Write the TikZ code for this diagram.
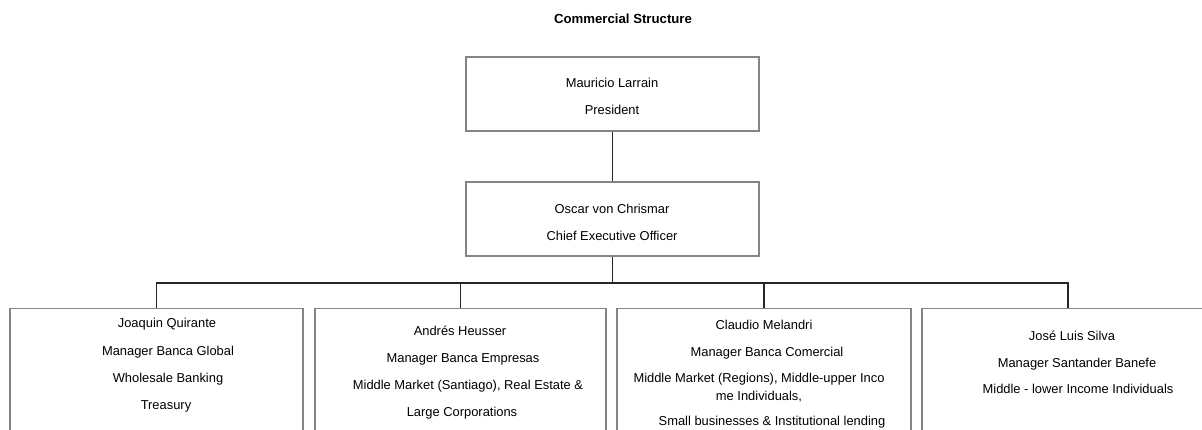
\documentclass[tikz,border=0pt]{standalone}
\usepackage{fontspec}
\setmainfont{Liberation Sans}
\begin{document}
\begin{tikzpicture}[x=1pt,y=-1pt,
  box/.style={draw=black!48, line width=1.3pt, rectangle, inner sep=0pt},
  wire/.style={draw=black!85, line width=1.4pt},
  lbl/.style={inner sep=0pt, font=\fontsize{12.9}{15}\selectfont, text=black},
  ttl/.style={inner sep=0pt, font=\fontsize{13.2}{15}\selectfont\bfseries}]
\useasboundingbox (0,0) rectangle (1202,430);
\clip (0,0) rectangle (1202,430);
\fill[white] (0,0) rectangle (1202,430);
\node[ttl] (title) at (623,19) {Commercial Structure};
% top boxes
\node[box, minimum width=293pt, minimum height=74pt] (pres) at (612.5,94) {};
\node[lbl] (pres1) at (612,83) {Mauricio Larrain};
\node[lbl] (pres2) at (612,110) {President};
\node[box, minimum width=293pt, minimum height=74pt] (ceo) at (612.5,219) {};
\node[lbl] (ceo1) at (612,209) {Oscar von Chrismar};
\node[lbl] (ceo2) at (612,236) {Chief Executive Officer};
% bottom boxes
\node[box, minimum width=293pt, minimum height=160pt, anchor=north] (b1) at (156.5,308) {};
\node[box, minimum width=291pt, minimum height=160pt, anchor=north] (b2) at (460.5,308) {};
\node[box, minimum width=294pt, minimum height=160pt, anchor=north] (b3) at (764,308) {};
\node[box, minimum width=292pt, minimum height=160pt, anchor=north] (b4) at (1068,308) {};
% box texts
\node[lbl] (t11) at (167,324) {Joaquin Quirante};
\node[lbl] (t12) at (168,352) {Manager Banca Global};
\node[lbl] (t13) at (168,379) {Wholesale Banking};
\node[lbl] (t14) at (166,406) {Treasury};
\node[lbl] (t21) at (460,331) {Andrés Heusser};
\node[lbl] (t22) at (463,359) {Manager Banca Empresas};
\node[lbl] (t23) at (468,386) {Middle Market (Santiago), Real Estate \&};
\node[lbl] (t24) at (462,413) {Large Corporations};
\node[lbl] (t31) at (764,325) {Claudio Melandri};
\node[lbl] (t32) at (767,353) {Manager Banca Comercial};
\node[lbl] (t33) at (759,379) {Middle Market (Regions), Middle-upper Inco};
\node[lbl] (t34) at (759,397) {me Individuals,};
\node[lbl] (t35) at (772,422) {Small businesses \& Institutional lending};
\node[lbl] (t41) at (1072,336) {José Luis Silva};
\node[lbl] (t42) at (1077,364) {Manager Santander Banefe};
\node[lbl] (t43) at (1078,389) {Middle - lower Income Individuals};
% connectors
\coordinate (bus) at (612.5,283);
\draw[wire] (pres.south) -- (ceo.north);
\draw[wire] (ceo.south) -- (bus);
\draw[wire] (b1.north) |- (bus) -| (b4.north);
\draw[wire] (b2.north) -- (b2.north |- bus);
\draw[wire] (b3.north) -- (b3.north |- bus);
\end{tikzpicture}
\end{document}
